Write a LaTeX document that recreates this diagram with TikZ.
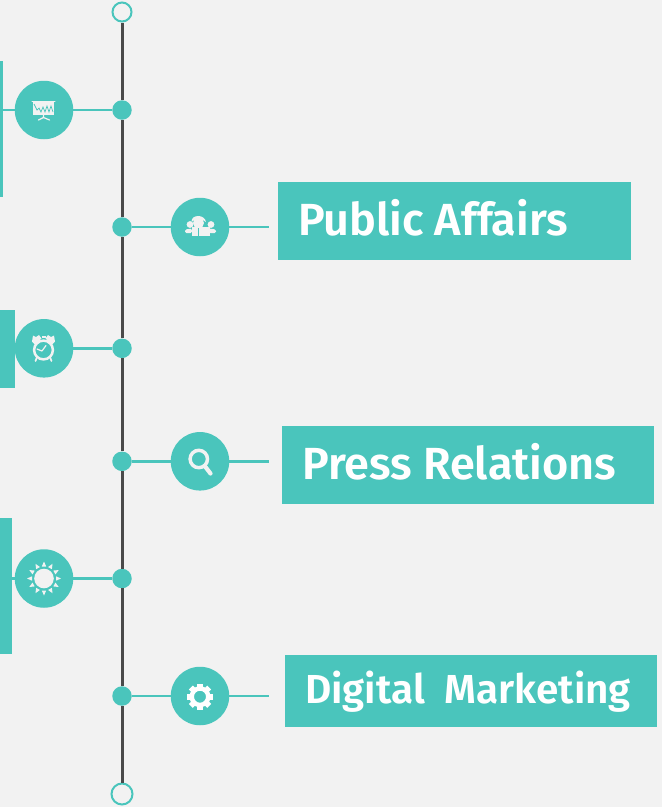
\documentclass[tikz,border=0pt]{standalone}
\usepackage{fontspec}
\setmainfont{Fira Sans}[BoldFont={Fira Sans SemiBold},Ligatures=NoCommon]
\definecolor{teal1}{HTML}{4AC5BC}
\definecolor{bg1}{HTML}{F2F2F2}
\definecolor{axis1}{HTML}{4A4A4A}
\tikzset{
  hub/.style={circle,fill=teal1,draw=none,minimum size=58.5pt,inner sep=0pt},
  dot/.style={circle,fill=teal1,draw=none,minimum size=19.5pt,inner sep=0pt},
  endring/.style={circle,fill=bg1,draw=teal1,line width=2pt,minimum size=19pt,inner sep=0pt},
  tbox/.style={rectangle,fill=teal1,draw=none,anchor=north west,inner sep=0pt},
  tlabel/.style={anchor=base west,inner sep=0pt,text=white,font=\fontsize{45pt}{46pt}\selectfont\bfseries},
  link/.style={draw=teal1,line width=2.6pt},
  spine/.style={draw=axis1,line width=3pt},
  icon/.style={fill=bg1,draw=none},
  iconline/.style={draw=bg1,line cap=round},
}
\begin{document}
\begin{tikzpicture}[x=1pt,y=-1pt]
\useasboundingbox (0,0) rectangle (662,807);
\fill[bg1] (0,0) rectangle (662,807);
% nodes
\node[endring] (top) at (122,12) {};
\node[endring,minimum size=21pt] (bot) at (122,794) {};
\node[dot] (d1) at (122,110) {};
\node[dot] (d2) at (122,227) {};
\node[dot] (d3) at (122,348.3) {};
\node[dot] (d4) at (122,461.3) {};
\node[dot] (d5) at (122,578.5) {};
\node[dot] (d6) at (122,696) {};
\node[hub] (h1) at (44,110) {};
\node[hub] (h2) at (200,227) {};
\node[hub] (h3) at (44,348.3) {};
\node[hub] (h4) at (200,461.3) {};
\node[hub] (h5) at (44,578.5) {};
\node[hub] (h6) at (200,696) {};
\node[tbox,minimum width=3pt,minimum height=136pt] (b1) at (0,61) {};
\node[tbox,minimum width=15pt,minimum height=78pt] (b3) at (0,310) {};
\node[tbox,minimum width=12pt,minimum height=136pt] (b5) at (0,518) {};
\node[tbox,minimum width=353pt,minimum height=78pt] (b2) at (278,182) {};
\node[tbox,minimum width=372pt,minimum height=78pt] (b4) at (282,426) {};
\node[tbox,minimum width=372pt,minimum height=72pt] (b6) at (285,655) {};
\coordinate (s2) at (269,227);
\coordinate (s4) at (269,461.3);
\coordinate (s6) at (269,696);
% connectors
\path[spine] (top) -- (d1) (d1) -- (d2) (d2) -- (d3) (d3) -- (d4) (d4) -- (d5) (d5) -- (d6) (d6) -- (bot);
\path[link] (d1) -- (h1) (h1) -- (b1.east |- h1);
\path[link] (d2) -- (h2) (h2) -- (s2);
\path[link] (d3) -- (h3);
\path[link] (d4) -- (h4) (h4) -- (s4);
\path[link] (d5) -- (h5) (h5) -- (b5.east |- h5);
\path[link] (d6) -- (h6) (h6) -- (s6);
% labels
\node[tlabel] (t2) at (298,235) {Public Affairs};
\node[tlabel] (t4) at (302,479) {Press Relations};
\node[tlabel,font=\fontsize{40.5pt}{41pt}\selectfont\bfseries] (t6) at (305,703) {Digital\ \ Marketing};
% icon: presentation board
\draw[iconline,line width=1pt] (32,101) -- (55,101);
\fill[icon] (33,102) rectangle (54,115);
\draw[teal1,line width=.7pt] (34,104) -- (37,110) -- (39,108) -- (41,112) -- (43,107) -- (45,112) -- (47,106) -- (49,112) -- (51,106) -- (53,112);
\draw[iconline,line width=1.2pt] (43.5,115) -- (43.5,117.5) (38.5,120) -- (43.5,117.5) -- (49.5,120);
% icon: alarm clock
\draw[draw=bg1,line width=2.5pt] (43.5,350) circle (9.4);
\fill[icon] (32,341.5) -- (33,335.5) -- (36,337) -- (39,335) -- (41.5,338.5) -- (35,344.5) -- cycle;
\fill[icon] (55,341.5) -- (54,335.5) -- (51,337) -- (48,335) -- (45.5,338.5) -- (52,344.5) -- cycle;
\fill[icon] (41.5,335.5) rectangle (45.5,338);
\draw[iconline,line width=1.7pt] (36.5,358.5) -- (35.5,361) (50.5,358.5) -- (51.5,361);
\draw[iconline,line width=1.2pt] (42,351) -- (46,345.5) (42,351) -- (37,349);
% icon: sun
\fill[icon] (44,578.5) circle (9.8);
\foreach \a in {0,30,...,330}{
  \fill[icon,rotate around={\a:(44,578.5)}] (41.8,566.5) -- (46.2,566.5) -- (44,561.5) -- cycle;
}
% icon: people
\fill[icon] (192,227) rectangle (209.5,236);
\fill[icon] (191.5,222) .. controls (191,214) and (205,214) .. (206,222) .. controls (203,218.5) and (194,218.5) .. (191.5,222) -- cycle;
\fill[icon] (198.5,223) circle (5.5);
\fill[icon] (190,224.5) circle (3.4);
\fill[icon] (211,224.5) circle (3.4);
\fill[icon,rounded corners=1.5pt] (185,233) -- (185,229.5) -- (192,228.5) -- (192,233) -- cycle;
\fill[icon,rounded corners=1.5pt] (216,233) -- (216,229.5) -- (209,228.5) -- (209,233) -- cycle;
\draw[teal1,line width=.6pt] (198.5,228) -- (198.5,236);
% icon: magnifier
\draw[draw=bg1,line width=3.5pt] (198.8,459) circle (8.7);
\draw[draw=bg1,line width=4.2pt,line cap=round] (205.5,467) -- (210.5,473.5);
% icon: gear
\begin{scope}[shift={(200,696.7)}]
\foreach \a in {0,45,...,315}{
  \fill[white,rotate=\a] (-2.8,-13) rectangle (2.8,-8);
}
\fill[white,even odd rule] (0,0) circle (10.5) (0,0) circle (6);
\end{scope}
\end{tikzpicture}
\end{document}
